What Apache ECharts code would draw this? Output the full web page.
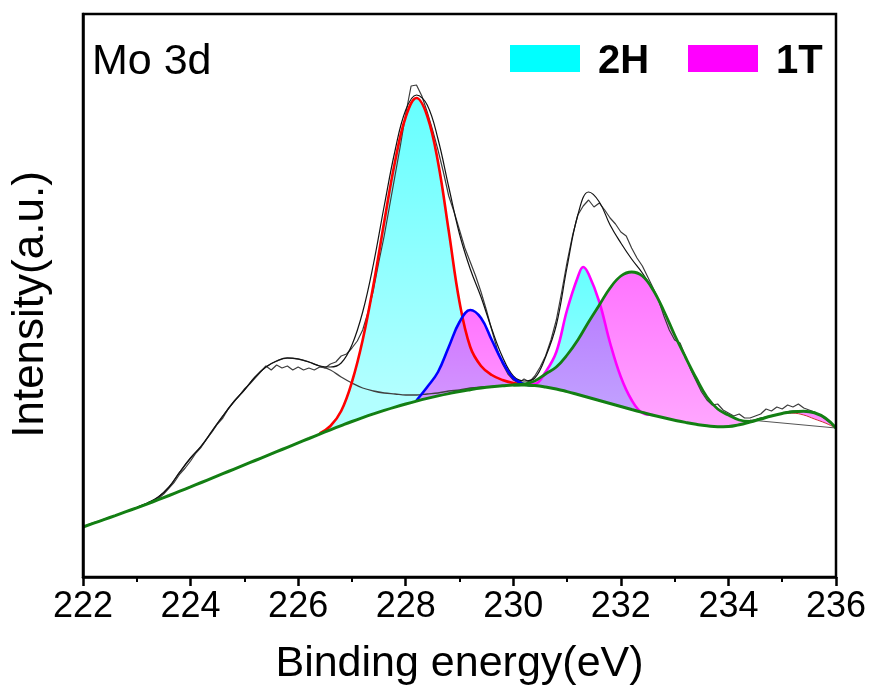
<!DOCTYPE html>
<html><head><meta charset="utf-8">
<script src="https://cdn.jsdelivr.net/npm/echarts@6/dist/echarts.min.js"></script>
<style>html,body{margin:0;padding:0;background:#fff}#c{width:877px;height:699px}</style>
</head><body><div id="c"></div>
<script>
// ---- sampling grids (binding energy, eV) ----
const energy = [222.0,222.2,222.4,222.6,222.8,223.0,223.2,223.4,223.6,223.8,
  224.0,224.2,224.4,224.6,224.8,225.0,225.2,225.4,225.6,225.8,
  226.0,226.2,226.4,226.6,226.8,227.0,227.2,227.4,227.6,227.8,
  228.0,228.2,228.4,228.6,228.8,229.0,229.2,229.4,229.6,229.8,
  230.0,230.2,230.4,230.6,230.8,231.0,231.2,231.4,231.6,231.8,
  232.0,232.2,232.4,232.6,232.8,233.0,233.2,233.4,233.6,233.8,
  234.0,234.2,234.4,234.6,234.8,235.0,235.2,235.4,235.6,235.8,236.0];

const energyRaw = [222.0,222.1,222.2,222.3,222.4,222.5,222.6,222.7,222.8,222.9,
  223.0,223.1,223.2,223.3,223.4,223.5,223.6,223.7,223.8,223.9,
  224.0,224.1,224.2,224.3,224.4,224.5,224.6,224.7,224.8,224.9,
  225.0,225.1,225.2,225.3,225.4,225.5,225.6,225.7,225.8,225.9,
  226.0,226.1,226.2,226.3,226.4,226.5,226.6,226.7,226.8,226.9,
  227.0,227.1,227.2,227.3,227.4,227.5,227.6,227.7,227.8,227.9,
  228.0,228.1,228.2,228.3,228.4,228.5,228.6,228.7,228.8,228.9,
  229.0,229.1,229.2,229.3,229.4,229.5,229.6,229.7,229.8,229.9,
  230.0,230.1,230.2,230.3,230.4,230.5,230.6,230.7,230.8,230.9,
  231.0,231.1,231.2,231.3,231.4,231.5,231.6,231.7,231.8,231.9,
  232.0,232.1,232.2,232.3,232.4,232.5,232.6,232.7,232.8,232.9,
  233.0,233.1,233.2,233.3,233.4,233.5,233.6,233.7,233.8,233.9,
  234.0,234.1,234.2,234.3,234.4,234.5,234.6,234.7,234.8,234.9,
  235.0,235.1,235.2,235.3,235.4,235.5,235.6,235.7,235.8,235.9,236.0];

// ---- measured spectrum (raw, a.u.) ----
const rawData = [50,52.5,54.5,56,58,60,61.5,63.5,65.5,67,
  69.5,72,74,76.5,78.5,83,89,95,103,109,
  116,124,130,138,145,153,159,168,175,181,
  188,193,199,205,211,207,212,209,211,207,
  210,207,209,207,210,209,213,215,221,223,
  229,236,247,265,287,315,341,371,401,431,
  463,491,492,481,465,447,427,405,381,365,
  347,329,315,301,285,267,247,228,213,203,
  197,194,198,195,201,210,221,237,257,285,
  315,341,362,371,377,370,374,367,359,353,
  345,341,329,319,311,300,289,277,261,247,
  237,234,221,207,196,185,177,172,173,167,
  164,161,163,159,159,161,163,168,166,170,
  168,172,170,173,169,167,165,162,158,154,149];

// ---- background (green) and fitted envelope (black) on the 0.2 eV grid ----
const background = [50,53.8,57.6,61.4,65.3,69.2,73.2,77.3,81.5,85.8,
  90.1,94.5,98.9,103.3,107.7,112.1,116.5,120.9,125.3,129.7,
  134.1,138.5,142.9,147.2,151.4,155.5,159.4,163.1,166.6,169.9,
  173.0,175.9,178.6,181.1,183.4,185.5,187.3,188.9,190.2,191.2,
  191.9,192.0,191.4,190.0,188.0,185.4,182.5,179.5,176.5,173.5,
  170.5,167.5,164.6,161.8,159.2,156.8,154.6,152.7,151.2,150.3,
  150.5,152.3,155.0,158.0,161.0,163.5,165.3,165.8,164.2,159.0,149];

const envelope = [50,53.8,57.6,61.5,65.5,69.5,74,80,90,105,
  119,131,146,161,175,187,200,210,216,219,
  218,215,211,210,214,232,265,313,371,426,
  467,482,472,438,390,343,308,280,248,220,
  201,196,199,220,252,310,362,385,375,352,
  334,318,304,287,266,242,220,199,180,168,
  162,157,156,159,161,164,166,166,164,159,149];

// ---- fitted components ----
const grayEnergy = energy.slice(0, 41);            // 222.0 .. 230.0
const grayComp = [50,53.8,57.6,61.5,65.5,69.5,74,80,90,105,
  119,131,146,161,175,187,200,210,216,219,
  218,215,211,207,200,194,189,186,184,183,
  182,182,183,184,186,187,189,190,190.5,191.5,192];

const redEnergy = [226.4,226.6,226.8,227.0,227.2,227.4,227.6,227.8,228.0,228.2,
  228.4,228.6,228.8,229.0,229.2,229.4,229.6,229.8,230.0,230.2];
const red2H = [143.5,151,166,195,237,292,355,415,460,479,
  461,415,346,275,230,211,202,197,194,192.5];

const blueEnergy = [228.2,228.4,228.6,228.8,229.0,229.2,229.4,229.6,229.8,230.0,230.2,230.4];
const blue1T = [176.5,190,205,230,255,267,259,237,215,199,193,191.5];

const magEnergy = [230.2,230.4,230.6,230.8,231.0,231.2,231.3,231.4,231.6,231.8,232.0,232.2,232.4,232.6];
const mag2H = [192.5,193,205,225,267,300,310,303,275,234,200,177,164,162];

const greenEnergy = [230.0,230.2,230.4,230.6,230.8,231.0,231.2,231.4,231.6,231.8,
  232.0,232.2,232.4,232.6,232.8,233.0,233.2,233.4,233.6,233.8,234.0,234.2,234.4];
const green1T = [192,193,196,203,210,222,237,255,272,289,
  301,305,301,287,266,242,220,199,180,168,162,157,155.5];

const humpEnergy = [235.0,235.2,235.4,235.6,235.8,236.0];
const humpLower = [163.5,163.8,162,158,154,149];

const linearBgEnergy = [234.4,236.0];
const linearBg = [157,149];

// ---- build options ----
const pairs = (xs, ys) => xs.map((x, i) => [x, ys[i]]);
const bgAt = xs => xs.map(x => background[energy.indexOf(x)]);
const grad = (r,g,b,a0) => new echarts.graphic.LinearGradient(0,0,0,1,[
  {offset:0,color:`rgba(${r},${g},${b},${a0})`},
  {offset:0.62,color:`rgba(${r},${g},${b},0.3)`},
  {offset:1,color:`rgba(${r},${g},${b},0.3)`}]);
const CYAN = () => grad(0,255,255,0.6);
const MAG = () => grad(255,0,255,0.55);

// filled component: area from the curve down to the axis, masked below the background afterwards
function fill(xs, ys, color, smooth) {
  return {type:'line', data:pairs(xs, ys), smooth:smooth===undefined?0.4:smooth, symbol:'none',
    lineStyle:{width:0}, areaStyle:{color, opacity:1, origin:'start'}, silent:true, z:1};
}
function line(xs, ys, color, width, z, smooth) {
  return {type:'line', data:pairs(xs, ys), smooth:smooth===undefined?0.4:smooth, symbol:'none',
    lineStyle:{color, width}, silent:true, z};
}
// white mask below the background (below the lower hump line where the small 1T hump sits)
const maskValues = energy.map((e, i) => {
  const k = humpEnergy.indexOf(e);
  return k >= 0 ? humpLower[k] : background[i];
});

const series = [
  fill(redEnergy, red2H, CYAN()),
  fill(magEnergy, mag2H, CYAN()),
  fill(blueEnergy, blue1T, MAG()),
  fill(greenEnergy, green1T, MAG()),
  fill(humpEnergy, bgAt(humpEnergy), 'rgba(255,0,255,0.45)'),
  {type:'line', data:pairs(energy, maskValues), smooth:0.4, symbol:'none',
   lineStyle:{width:0}, areaStyle:{color:'#ffffff', opacity:1, origin:'start'}, silent:true, z:2},
  line(grayEnergy, grayComp, '#404040', 1.3, 3),
  line(linearBgEnergy, linearBg, '#555', 1, 3, false),
  line(energyRaw, rawData, '#3c3c3c', 1.2, 4, false),
  line(energy, envelope, '#111', 1.2, 4),
  line(humpEnergy, humpLower, '#cc3333', 1, 4),
  line(redEnergy, red2H, '#ff0000', 2.6, 5),
  line(blueEnergy, blue1T, '#0000ff', 2.6, 5),
  line(magEnergy, mag2H, '#ff00ff', 2.6, 5),
  line(greenEnergy, green1T, '#137f13', 2.8, 6),
  line(energy, background, '#137f13', 3, 6, 0.5)
];

const FONT = "'Liberation Sans', Arial, sans-serif";
const chart = echarts.init(document.getElementById('c'), null, {renderer:'canvas'});
chart.setOption({
  animation:false,
  backgroundColor:'#fff',
  textStyle:{fontFamily:FONT, color:'#000'},
  title:{text:'Mo 3d', left:87, top:36, textStyle:{fontFamily:FONT, fontSize:43, fontWeight:'normal', color:'#000'}},
  graphic:[
    {type:'rect', left:510, top:45, shape:{width:70, height:27}, style:{fill:'#00ffff'}, z:20},
    {type:'text', left:598, top:42, style:{text:'2H', fill:'#000', font:`bold 40px ${FONT}`}, z:20},
    {type:'rect', left:688, top:45, shape:{width:70, height:27}, style:{fill:'#ff00ff'}, z:20},
    {type:'text', left:776, top:42, style:{text:'1T', fill:'#000', font:`bold 40px ${FONT}`}, z:20}
  ],
  grid:{left:83, right:41, top:14, bottom:122, show:true, borderColor:'#000', borderWidth:2.5,
        backgroundColor:'transparent', z:10},
  xAxis:{
    type:'value', min:222, max:236, interval:2, z:10,
    name:'Binding energy(eV)', nameLocation:'middle', nameGap:66,
    nameTextStyle:{fontFamily:FONT, fontSize:43, color:'#000'},
    axisLine:{onZero:false, lineStyle:{color:'#000', width:2.5}},
    axisTick:{show:true, inside:false, length:9, lineStyle:{color:'#000', width:2.5}},
    minorTick:{show:true, splitNumber:2, length:5, lineStyle:{color:'#000', width:2}},
    axisLabel:{fontFamily:FONT, fontSize:36, color:'#000', margin:12},
    splitLine:{show:false}
  },
  yAxis:{
    type:'value', min:0, max:563, z:10,
    name:'Intensity(a.u.)', nameLocation:'middle', nameGap:30,
    nameTextStyle:{fontFamily:FONT, fontSize:44, color:'#000', padding:[0,18,0,0]},
    axisLine:{show:true, lineStyle:{color:'#000', width:2.5}},
    axisTick:{show:false}, axisLabel:{show:false}, splitLine:{show:false}
  },
  series
});
</script></body></html>
